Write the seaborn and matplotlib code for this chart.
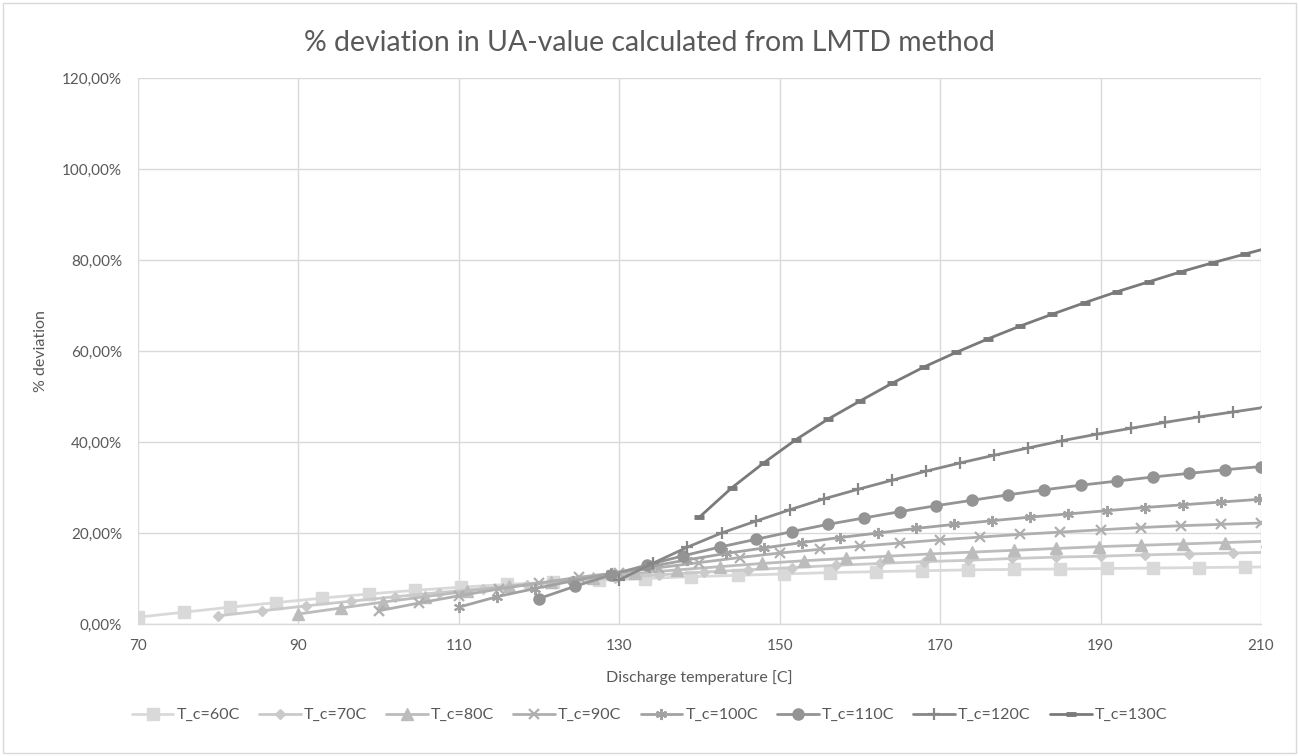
import matplotlib
matplotlib.use("Agg")
import matplotlib.pyplot as plt
from matplotlib.ticker import FuncFormatter, MultipleLocator
from matplotlib.patches import Rectangle
import seaborn as sns

# discharge temperature [C] and % deviation, one pair of lists per condensing temperature
x_tc60 = [70, 75.75, 81.5, 87.25, 93, 98.75, 104.5, 110.25, 116, 121.75, 127.5, 133.25, 139,
          144.75, 150.5, 156.25, 162, 167.75, 173.5, 179.25, 185, 190.75, 196.5, 202.25, 208, 213.75]
y_tc60 = [1.5, 2.6, 3.7, 4.7, 5.7, 6.6, 7.4, 8.1, 8.7, 9.2, 9.6, 10.0, 10.4,
          10.7, 11.0, 11.3, 11.5, 11.7, 11.9, 12.0, 12.1, 12.2, 12.3, 12.4, 12.5, 12.6]

x_tc70 = [80, 85.5, 91, 96.5, 102, 107.5, 113, 118.5, 124, 129.5, 135, 140.5, 146,
          151.5, 157, 162.5, 168, 173.5, 179, 184.5, 190, 195.5, 201, 206.5, 212]
y_tc70 = [1.8, 2.9, 4.0, 5.0, 6.0, 6.9, 7.8, 8.6, 9.4, 10.1, 10.8, 11.4, 11.9,
          12.4, 12.9, 13.3, 13.7, 14.0, 14.4, 14.7, 14.9, 15.2, 15.4, 15.6, 15.8]

x_tc80 = [90, 95.25, 100.5, 105.75, 111, 116.25, 121.5, 126.75, 132, 137.25, 142.5, 147.75,
          153, 158.25, 163.5, 168.75, 174, 179.25, 184.5, 189.75, 195, 200.25, 205.5, 210.75]
y_tc80 = [2.2, 3.5, 4.8, 6.0, 7.2, 8.3, 9.3, 10.2, 11.1, 11.9, 12.6, 13.3,
          13.9, 14.4, 14.9, 15.4, 15.8, 16.2, 16.6, 17.0, 17.3, 17.6, 17.9, 18.2]

x_tc90 = [100, 105, 110, 115, 120, 125, 130, 135, 140, 145, 150, 155,
          160, 165, 170, 175, 180, 185, 190, 195, 200, 205, 210]
y_tc90 = [2.9, 4.6, 6.2, 7.7, 9.0, 10.3, 11.3, 12.4, 13.5, 14.6, 15.6, 16.4,
          17.1, 17.8, 18.5, 19.1, 19.7, 20.2, 20.7, 21.2, 21.6, 21.9, 22.2]

x_tc100 = [110, 114.75, 119.5, 124.25, 129, 133.75, 138.5, 143.25, 148, 152.75, 157.5,
           162.25, 167, 171.75, 176.5, 181.25, 186, 190.75, 195.5, 200.25, 205, 209.75]
y_tc100 = [3.7, 6.0, 7.8, 9.5, 11.1, 12.6, 14.1, 15.5, 16.7, 17.9, 19.0,
           20.0, 21.0, 21.9, 22.7, 23.5, 24.2, 24.9, 25.6, 26.2, 26.8, 27.4]

x_tc110 = [120, 124.5, 129, 133.5, 138, 142.5, 147, 151.5, 156, 160.5, 165,
           169.5, 174, 178.5, 183, 187.5, 192, 196.5, 201, 205.5, 210]
y_tc110 = [5.6, 8.3, 10.8, 13.0, 15.0, 16.9, 18.6, 20.3, 21.9, 23.3, 24.7,
           26.0, 27.2, 28.4, 29.5, 30.5, 31.4, 32.3, 33.1, 33.9, 34.6]

x_tc120 = [130, 134.25, 138.5, 142.75, 147, 151.25, 155.5, 159.75, 164, 168.25,
           172.5, 176.75, 181, 185.25, 189.5, 193.75, 198, 202.25, 206.5, 210.75]
y_tc120 = [9.7, 13.4, 16.9, 20.0, 22.6, 25.1, 27.5, 29.6, 31.6, 33.6,
           35.4, 37.1, 38.7, 40.3, 41.7, 43.0, 44.3, 45.5, 46.6, 47.7]

x_tc130 = [140, 144, 148, 152, 156, 160, 164, 168, 172, 176,
           180, 184, 188, 192, 196, 200, 204, 208, 212]
y_tc130 = [23.5, 29.9, 35.4, 40.5, 45.0, 49.0, 52.9, 56.5, 59.7, 62.7,
           65.5, 68.1, 70.6, 73.0, 75.2, 77.4, 79.4, 81.3, 83.2]

labels = ["T_c=60C", "T_c=70C", "T_c=80C", "T_c=90C",
          "T_c=100C", "T_c=110C", "T_c=120C", "T_c=130C"]
xs = [x_tc60, x_tc70, x_tc80, x_tc90, x_tc100, x_tc110, x_tc120, x_tc130]
ys = [y_tc60, y_tc70, y_tc80, y_tc90, y_tc100, y_tc110, y_tc120, y_tc130]
x_ticks = [70, 90, 110, 130, 150, 170, 190, 210]

# greyscale styling, lightest for the lowest T_c
colors = ["#d9d9d9", "#cacaca", "#bcbcbc", "#afafaf", "#a2a2a2", "#949494", "#878787", "#7a7a7a"]
markers = ["s", "D", "^", "x", (6, 2, 0), "o", "+", "_"]
msizes = [8, 5.5, 8, 7.5, 8, 8, 8, 7]
mews = [1, 1, 1, 1.6, 1.5, 1, 1.6, 3.5]

sns.set_theme(style="white")
plt.rcParams["font.family"] = ["Lato", "DejaVu Sans"]
text_col = "#595959"

fig = plt.figure(figsize=(12.99, 7.56), dpi=100)
ax = fig.add_axes([138 / 1299, 1 - 624 / 756, (1261 - 138) / 1299, (624 - 78) / 756])

for x, y, lab, c, m, ms, mew in zip(xs, ys, labels, colors, markers, msizes, mews):
    sns.lineplot(x=x, y=y, ax=ax, color=c, label=lab, linewidth=2.0, marker=m,
                 markersize=ms, markeredgewidth=mew, markeredgecolor=c,
                 markerfacecolor=c, sort=False, estimator=None)

ax.set_xlim(70, 210)
ax.set_ylim(0, 120)
ax.set_xticks(x_ticks)
ax.yaxis.set_major_locator(MultipleLocator(20))
ax.yaxis.set_major_formatter(FuncFormatter(lambda v, p: f"{v:.2f}%".replace(".", ",")))
ax.grid(True, color="#d9d9d9", linewidth=1.0)
for s in ["top", "right", "left"]:
    ax.spines[s].set_visible(False)
ax.spines["bottom"].set_color("#d9d9d9")
ax.spines["bottom"].set_linewidth(1.0)
ax.tick_params(axis="both", length=0, labelsize=11, labelcolor=text_col)
ax.tick_params(axis="x", pad=11)
ax.tick_params(axis="y", pad=11.5)

ax.set_xlabel("Discharge temperature [C]", fontsize=11.5, color=text_col, labelpad=12)
ax.set_ylabel("% deviation", fontsize=11.5, color=text_col, labelpad=10)
fig.text(0.5, 1 - 43 / 756, "% deviation in UA-value calculated from LMTD method",
         ha="center", va="center", fontsize=20.4, color=text_col)

handles, labs = ax.get_legend_handles_labels()
ax.get_legend().remove()
fig.legend(handles, labs, loc="center", bbox_to_anchor=(0.5, 1 - 715 / 756), ncol=8,
           frameon=False, fontsize=11.5, handlelength=2.6, handletextpad=0.2,
           columnspacing=1.2, labelcolor=text_col)

fig.patches.append(Rectangle((3 / 1299, 3 / 756), 1 - 6 / 1299, 1 - 6 / 756,
                             transform=fig.transFigure, fill=False,
                             edgecolor="#d9d9d9", linewidth=1.0))

fig.savefig("out.png", dpi=100)
